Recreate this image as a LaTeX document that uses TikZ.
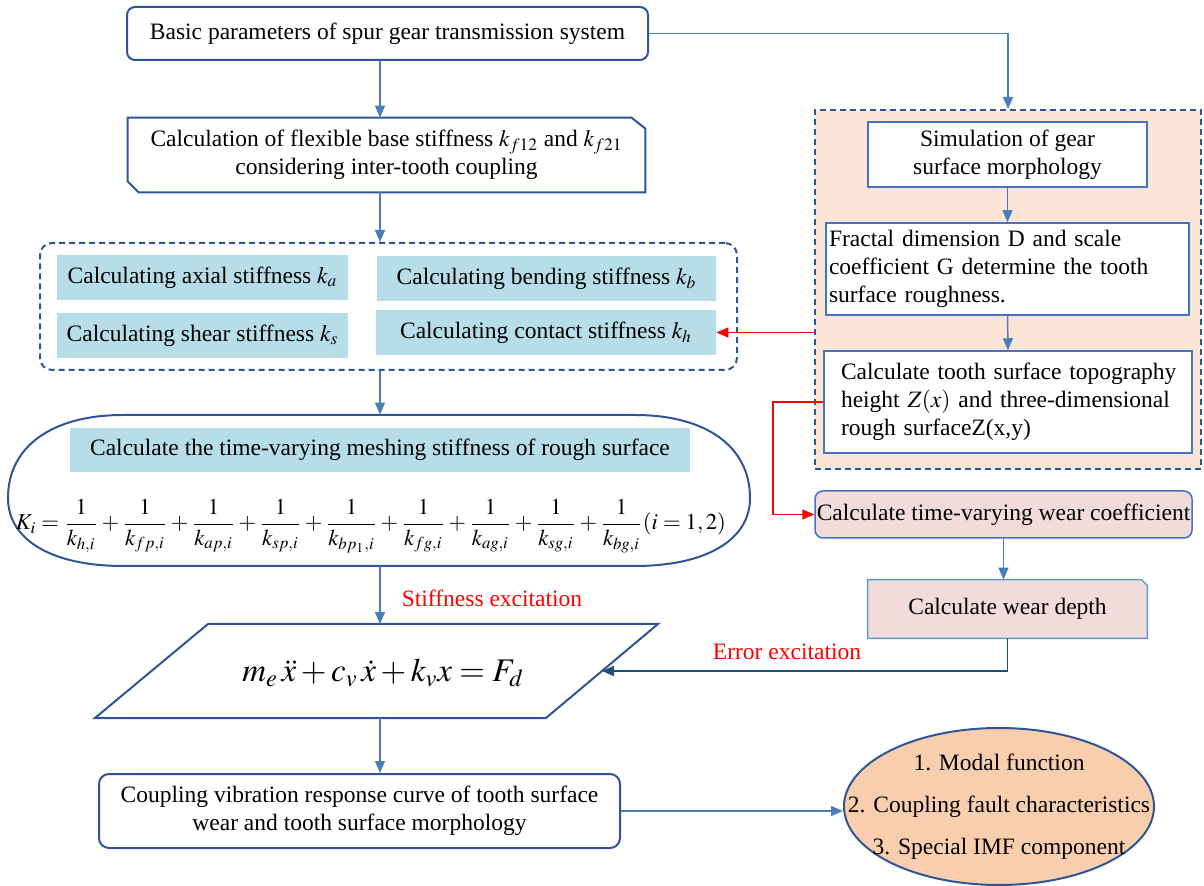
\documentclass[tikz,border=0pt]{standalone}
\usepackage{mathptmx}
\usepackage{fontspec}
\setmainfont{Liberation Serif}
\usepackage{graphicx}
\usetikzlibrary{arrows.meta,shapes.geometric,backgrounds}
\definecolor{lnblue}{HTML}{4A7EBB}
\definecolor{bdblue}{HTML}{2F5597}
\definecolor{inblue}{HTML}{4472C4}
\definecolor{ltblue}{HTML}{5B9BD5}
\definecolor{cyanfill}{HTML}{B7DEE8}
\definecolor{orfill}{HTML}{FBE5D6}
\definecolor{pkfill}{HTML}{F2DCDB}
\definecolor{elfill}{HTML}{F8CEAF}
\definecolor{dkblue}{HTML}{1F4E79}
\definecolor{redc}{HTML}{FF0000}
\tikzset{
  base/.style={font=\fontsize{11.75}{14}\selectfont, inner sep=0pt, align=center},
  rbox/.style={base, draw=bdblue, line width=1pt, rounded corners=4pt, fill=white},
  cbox/.style={base, fill=cyanfill},
  wbox/.style={base, draw=inblue, line width=0.75pt, fill=white},
  dashbox/.style={draw=bdblue, line width=1pt, dash pattern=on 3pt off 2pt, inner sep=0pt},
  arr/.style={draw=lnblue, line width=0.75pt, -{Triangle[width=5pt,length=6pt]}},
  dkarr/.style={draw=dkblue, line width=0.75pt, -{Triangle[width=5pt,length=6pt]}},
  redarr/.style={draw=redc, line width=0.75pt, -{Triangle[width=5pt,length=6pt]}},
  redlbl/.style={base, text=redc}
}
\begin{document}
\begin{tikzpicture}[x=0.5pt,y=-0.5pt]
\useasboundingbox (0,0) rectangle (1204,886);
\coordinate (spine) at (380,0);

% top box
\node[rbox, minimum width=260.5pt, minimum height=26.5pt] (b1) at (387.5,33.5) {Basic parameters of spur gear transmission system};

% chamfered box
\node[base, minimum width=258.5pt, minimum height=37pt] (b2) at (386.5,155) {Calculation of flexible base stiffness $k_{f12}$ and $k_{f21}$\\considering inter-tooth coupling};
\draw[draw=bdblue, line width=1pt] (b2.north west) -- ([xshift=-7pt]b2.north east) -- ([yshift=-5.5pt]b2.north east) -- (b2.south east) -- ([xshift=5.5pt]b2.south west) -- ([yshift=5.5pt]b2.south west) -- cycle;

% dashed group of stiffnesses
\node[dashbox, rounded corners=6pt, minimum width=348.5pt, minimum height=63.5pt] (g1) at (388.5,306.5) {};
\node[cbox, minimum width=145.5pt, minimum height=22.5pt] (ka) at (202.5,277.5) {Calculating axial stiffness $k_a$};
\node[cbox, minimum width=169.5pt, minimum height=22.5pt] (kb) at (546.5,278.5) {Calculating bending stiffness $k_b$};
\node[cbox, minimum width=145.5pt, minimum height=22.5pt] (ks) at (202.5,335.5) {Calculating shear stiffness $k_s$};
\node[cbox, minimum width=170pt, minimum height=22.5pt] (kh) at (546,332.5) {Calculating contact stiffness $k_h$};

% stadium
\node[inner sep=0pt, minimum width=371pt, minimum height=75.5pt] (st) at (379,490.5) {};
\draw[draw=bdblue, line width=1pt] (123,415) -- (635,415) .. controls (706,415) and (750,446.5) .. (750,498) .. controls (750,540) and (706,566) .. (635,566) -- (123,566) .. controls (52,566) and (8,540) .. (8,498) .. controls (8,446.5) and (52,415) .. (123,415) -- cycle;
\node[cbox, minimum width=310pt, minimum height=22pt] (mb) at (380,450) {Calculate the time-varying meshing stiffness of rough surface};
\node[inner sep=0pt] (kf) at (371,526) {\resizebox{355pt}{!}{$\displaystyle K_i=\frac{1}{k_{h,i}}+\frac{1}{k_{fp,i}}+\frac{1}{k_{ap,i}}+\frac{1}{k_{sp,i}}+\frac{1}{k_{bp_1,i}}+\frac{1}{k_{fg,i}}+\frac{1}{k_{ag,i}}+\frac{1}{k_{sg,i}}+\frac{1}{k_{bg,i}}(i=1,2)$}};

% parallelogram
\draw[draw=bdblue, line width=1pt] (208,624) -- (658,624) -- (546,718) -- (95,718) -- cycle;
\coordinate (pgT) at (380,624);
\coordinate (pgB) at (380,718);
\coordinate (pgR) at (602,671);
\node[inner sep=0pt] (pg) at (383,673) {\fontsize{16.5}{20}\selectfont $m_e\,\ddot{x}+c_v\,\dot{x}+k_v x=F_d$};

% coupling box
\node[rbox, rounded corners=5pt, minimum width=260.5pt, minimum height=37pt] (cb) at (359.5,811) {Coupling vibration response curve of tooth surface\\wear and tooth surface morphology};

% ellipse
\node[ellipse, draw=bdblue, line width=1pt, fill=elfill, minimum width=155pt, minimum height=78.5pt, inner sep=0pt] (el) at (999,806.5) {};
\node[base, font=\fontsize{11.75}{21}\selectfont] (elt) at (999,807) {1. Modal function\\2. Coupling fault characteristics\\3. Special IMF component};

% right column
\node[dashbox, fill=orfill, minimum width=193pt, minimum height=179.5pt] (og) at (1008,289.5) {};
\node[wbox, minimum width=139.5pt, minimum height=32.5pt] (s1) at (1007.5,154.5) {Simulation of gear\\surface morphology};
\node[wbox, minimum height=46pt, inner xsep=1.5pt, text width=178.5pt, align=left] (s2) at (1007.5,269) {\makebox[160.5pt][s]{Fractal dimension D and scale}\\\makebox[160.5pt][s]{coefficient G determine the tooth}\\surface roughness.};
\node[wbox, minimum height=51pt, inner xsep=8.5pt, text width=167pt, align=left] (s3) at (1008,402) {\makebox[167.5pt][s]{Calculate tooth surface topography}\\\makebox[167.5pt][s]{height $Z(x)$ and three-dimensional}\\rough surfaceZ(x,y)};

\node[base, draw=inblue, line width=0.75pt, fill=pkfill, rounded corners=4pt, minimum width=188.5pt, minimum height=23.5pt] (w1) at (1003.5,514.5) {Calculate time-varying wear coefficient};
\node[base, minimum width=139.5pt, minimum height=29pt] (w2) at (1007.5,609) {Calculate wear depth};
\begin{pgfonlayer}{background}
\draw[draw=ltblue, line width=0.75pt, fill=pkfill] (w2.south west) -- (w2.north west) -- ([xshift=-3pt]w2.north east) -- ([yshift=-3pt]w2.north east) -- (w2.south east) -- cycle;
\end{pgfonlayer}

% labels
\node[redlbl] (lbl1) at (492,598) {Stiffness excitation};
\node[redlbl] (lbl2) at (787,652) {Error excitation};

% connectors
\draw[arr] (b1.east) -| (og.north);
\draw[arr] (b1.south -| spine) -- (b2.north -| spine);
\draw[arr] (b2.south -| spine) -- (g1.north -| spine);
\draw[arr] (g1.south -| spine) -- (st.north -| spine);
\draw[arr] (st.south -| spine) -- (pgT);
\draw[arr] (pgB) -- (cb.north -| pgB);
\draw[arr] (cb.east) -- (cb.east -| el.west);
\draw[arr] (s1.south) -- (s2.north);
\draw[arr] (s2.south) -- (s3.north);
\draw[arr] (w1.south) -- (w1.south |- w2.north);
\draw[dkarr] (w2.south) |- (pgR);
\draw[redarr] (og.west |- kh.east) -- (kh.east);
\coordinate (rc) at (773,402);
\draw[redarr] (s3.west) -- (rc) |- (w1.west);
\end{tikzpicture}
\end{document}
